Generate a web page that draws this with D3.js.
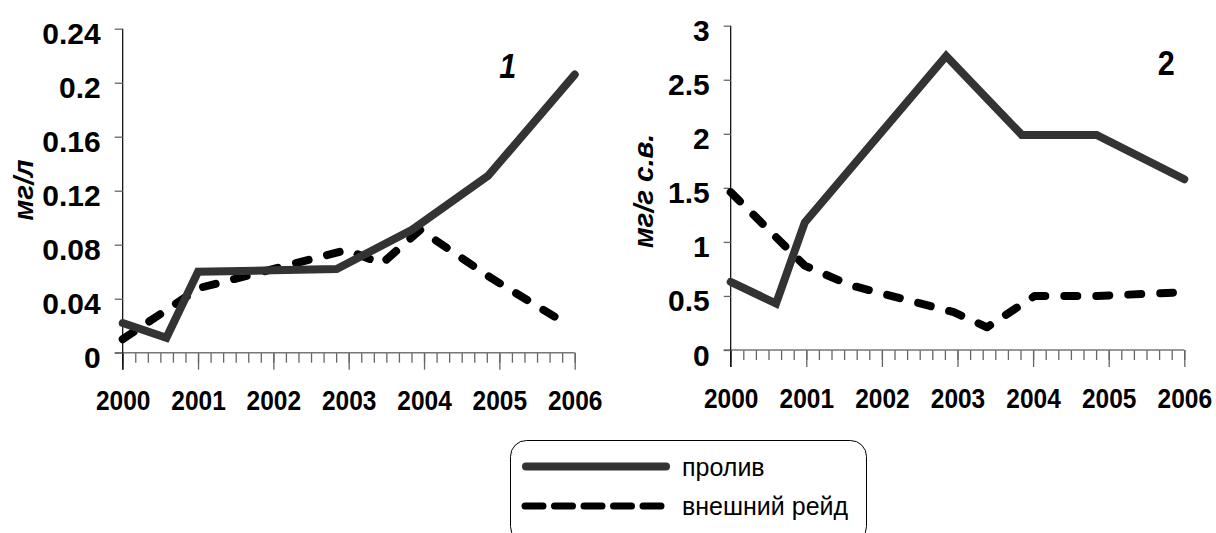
<!DOCTYPE html>
<html>
<head>
<meta charset="utf-8">
<script src="https://cdn.jsdelivr.net/npm/d3@7"></script>
<style>
  html, body { margin: 0; padding: 0; background: #fff; }
  svg { display: block; }
</style>
</head>
<body>
<svg id="chart" width="1216" height="533"></svg>
<script>
// ---- data ----
const yearTicks = [2000, 2001, 2002, 2003, 2004, 2005, 2006];

// chart 1 (мг/л)
const c1Ticks = [0, 0.04, 0.08, 0.12, 0.16, 0.2, 0.24];
const c1TickLabels = ["0", "0.04", "0.08", "0.12", "0.16", "0.2", "0.24"];
const c1SolidT = [2000, 2000.58, 2001, 2002, 2002.84, 2003.84, 2004.85, 2006];
const c1SolidV = [0.022, 0.011, 0.060, 0.061, 0.062, 0.091, 0.131, 0.206];
const c1DashT = [2000, 2001.02, 2002.97, 2003.44, 2003.95, 2004.9, 2005.9];
const c1DashV = [0.010, 0.048, 0.076, 0.066, 0.091, 0.055, 0.021];

// chart 2 (мг/г с.в.)
const c2Ticks = [0, 0.5, 1, 1.5, 2, 2.5, 3];
const c2TickLabels = ["0", "0.5", "1", "1.5", "2", "2.5", "3"];
const c2SolidT = [2000, 2000.6, 2000.98, 2002.85, 2003.85, 2004.84, 2006];
const c2SolidV = [0.63, 0.43, 1.18, 2.72, 1.99, 1.99, 1.58];
const c2DashT = [2000, 2000.98, 2001.58, 2002.95, 2003.39, 2004.02, 2004.85, 2005.85];
const c2DashV = [1.46, 0.78, 0.60, 0.35, 0.21, 0.50, 0.50, 0.53];

const seriesNames = ["пролив", "внешний рейд"];

// ---- drawing ----
const svg = d3.select("#chart");
const SOLID = "#333333";
const DASH = "#000000";
const FONT = "'Liberation Sans',Arial,sans-serif";

function drawPanel(cfg) {
  const g = svg.append("g");
  const x = d3.scaleLinear().domain([2000, 2006]).range(cfg.xRange);
  const y = d3.scaleLinear().domain(cfg.yDomain).range(cfg.yRange);

  // minor x ticks
  const minor = d3.range(0, 37).map(i => 2000 + i / 6);
  g.append("g")
    .attr("transform", `translate(0,${y(0)})`)
    .call(d3.axisBottom(x).tickValues(minor).tickSize(10).tickFormat(""))
    .call(a => a.select(".domain").remove())
    .call(a => a.selectAll("line").attr("stroke", "#666").attr("stroke-width", 1.3));

  // major x ticks + labels
  const xa = g.append("g")
    .attr("transform", `translate(0,${y(0)})`)
    .call(d3.axisBottom(x).tickValues(yearTicks).tickSize(17).tickFormat(d3.format("d")).tickSizeOuter(0));
  xa.select(".domain").remove();
  xa.selectAll("line").attr("stroke", "#666").attr("stroke-width", 1.3);
  xa.selectAll("text")
    .attr("x", 0).attr("y", 0).attr("dy", 0)
    .attr("transform", `translate(0,${cfg.xLabelBase - y(0)}) scale(1,1.15)`)
    .attr("text-anchor", "middle")
    .attr("fill", "#000")
    .style("font-family", FONT)
    .style("font-weight", "bold")
    .style("font-size", "24.5px");

  // x axis line (extends past y axis)
  g.append("line")
    .attr("x1", cfg.xRange[0] - cfg.yTick).attr("x2", cfg.xRange[1])
    .attr("y1", y(0)).attr("y2", y(0))
    .attr("stroke", "#777").attr("stroke-width", 1.5);

  // y axis
  const ya = g.append("g")
    .attr("transform", `translate(${cfg.xRange[0]},0)`)
    .call(d3.axisLeft(y).tickValues(cfg.ticks).tickSize(cfg.yTick).tickSizeOuter(0)
      .tickFormat((d, i) => cfg.tickLabels[i]));
  ya.select(".domain").attr("stroke", "#000").attr("stroke-width", 1.2)
    .attr("d", `M0,${y(0) + 17}V${cfg.yRange[1]}`);
  ya.selectAll("line").attr("stroke", "#666").attr("stroke-width", 1.3);
  ya.selectAll("text")
    .attr("x", -(cfg.yTick + cfg.yPad)).attr("dy", "0.5em")
    .attr("fill", "#000")
    .style("font-family", FONT)
    .style("font-weight", "bold")
    .style("font-size", "30px");

  // y title
  g.append("text")
    .attr("transform", `translate(${cfg.titleX},${cfg.titleY}) rotate(-90)`)
    .attr("text-anchor", "middle")
    .attr("dy", "0.35em")
    .style("font-family", FONT)
    .style("font-weight", "bold").style("font-style", "italic")
    .style("font-size", "28px")
    .text(cfg.title);

  // panel number
  g.append("text")
    .attr("x", x(cfg.numAt[0])).attr("y", y(cfg.numAt[1]))
    .attr("textLength", cfg.numW).attr("lengthAdjust", "spacingAndGlyphs")
    .style("font-family", FONT)
    .style("font-weight", "bold").style("font-style", cfg.numItalic ? "italic" : "normal")
    .style("font-size", "35px")
    .text(cfg.num);

  const line = d3.line().x(d => x(d[0])).y(d => y(d[1]));
  g.append("path")
    .datum(cfg.dashT.map((t, i) => [t, cfg.dashV[i]]))
    .attr("d", line).attr("fill", "none")
    .attr("stroke", DASH).attr("stroke-width", 8)
    .attr("stroke-linecap", "round").attr("stroke-linejoin", "round")
    .attr("stroke-dasharray", "13 19");
  g.append("path")
    .datum(cfg.solidT.map((t, i) => [t, cfg.solidV[i]]))
    .attr("d", line).attr("fill", "none")
    .attr("stroke", SOLID).attr("stroke-width", 8)
    .attr("stroke-linecap", "round").attr("stroke-linejoin", "miter");
}

drawPanel({
  xRange: [122.7, 574.7], yDomain: [0, 0.24], yRange: [352.7, 28.7],
  ticks: c1Ticks, tickLabels: c1TickLabels, yTick: 8, yPad: 14,
  xLabelBase: 410, title: "мг/л", titleX: 23, titleY: 190,
  solidT: c1SolidT, solidV: c1SolidV, dashT: c1DashT, dashV: c1DashV,
  num: "1", numAt: [2005.0, 0.2035], numItalic: true, numW: 17
});
drawPanel({
  xRange: [730.7, 1184.3], yDomain: [0, 3], yRange: [350, 25.7],
  ticks: c2Ticks, tickLabels: c2TickLabels, yTick: 7, yPad: 14,
  xLabelBase: 408, title: "мг/г с.в.", titleX: 643, titleY: 191,
  solidT: c2SolidT, solidV: c2SolidV, dashT: c2DashT, dashV: c2DashV,
  num: "2", numAt: [2005.65, 2.54], numItalic: false, numW: 17
});

// legend
const lg = svg.append("g");
lg.append("rect")
  .attr("x", 510.5).attr("y", 440.5).attr("width", 356).attr("height", 102)
  .attr("rx", 16).attr("ry", 16)
  .attr("fill", "#fff").attr("stroke", "#000").attr("stroke-width", 1);
const legY = d3.scalePoint().domain(seriesNames).range([466.5, 506]);
lg.append("line")
  .attr("x1", 526).attr("x2", 666).attr("y1", legY(seriesNames[0])).attr("y2", legY(seriesNames[0]))
  .attr("stroke", SOLID).attr("stroke-width", 8).attr("stroke-linecap", "round");
lg.append("line")
  .attr("x1", 525).attr("x2", 667).attr("y1", legY(seriesNames[1])).attr("y2", legY(seriesNames[1]))
  .attr("stroke", DASH).attr("stroke-width", 7).attr("stroke-linecap", "round")
  .attr("stroke-dasharray", "18 11.5");
lg.selectAll("text.leg").data(seriesNames).join("text")
  .attr("class", "leg")
  .attr("x", 682).attr("y", d => legY(d) + 9)
  .style("font-family", FONT)
  .style("font-size", "25px")
  .text(d => d);
</script>
</body>
</html>
